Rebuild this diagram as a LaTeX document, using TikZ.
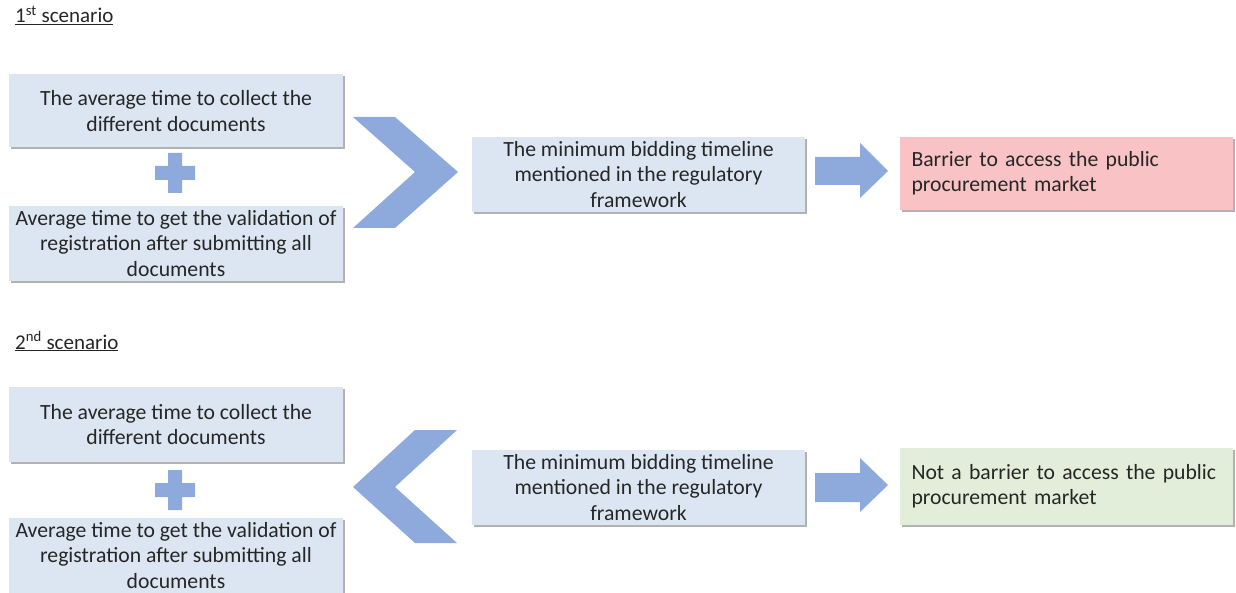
\documentclass[tikz,border=0pt]{standalone}
\usepackage{fontspec}
\setmainfont{Carlito}
\usetikzlibrary{shadows}
\definecolor{boxblue}{HTML}{DCE6F2}
\definecolor{shapeblue}{HTML}{8EA9DB}
\definecolor{badpink}{HTML}{F9C3C5}
\definecolor{okgreen}{HTML}{E3EEDA}
\definecolor{txt}{HTML}{262626}
\begin{document}
\begin{tikzpicture}[x=1pt,y=-1pt,
  every node/.style={font=\fontsize{21.7}{25.2}\selectfont, text=txt},
  box/.style={fill=#1, inner sep=0pt, minimum width=334pt,
    drop shadow={shadow xshift=1.6pt, shadow yshift=-1.6pt, fill=black, opacity=0.3}},
  box/.default=boxblue,
  verdict/.style={box=#1, align=left, text width=310pt, minimum width=333pt},
  title/.style={anchor=base west, inner sep=0pt, font=\fontsize{21}{25}\selectfont},
  blueshape/.style={fill=shapeblue, draw=none}]
\useasboundingbox (0,0) rectangle (1236,593);
\clip (0,0) rectangle (1236,593);

% ---------- first scenario ----------
\node[title] (t1) at (15,23) {\underline{1\textsuperscript{st} scenario}};

\node[box, align=center, minimum height=73pt] (a1) at (176,111)
  {The average time to collect the\\different documents};
\node[box, align=center, minimum height=75pt] (b1) at (176,243.5)
  {Average time to get the validation of\\registration after submitting all\\documents};
\fill[blueshape] (155,166) rectangle (195,180) (168,153) rectangle (182,193);

\fill[blueshape] (353,117) -- (395,117) -- (458,172) -- (395,228) -- (353,228) -- (415,172) -- cycle;

\node[box, align=center, minimum width=333pt, minimum height=75pt] (m1) at (638.5,174.5)
  {The minimum bidding timeline\\mentioned in the regulatory\\framework};

\fill[blueshape] (815,157) -- (860,157) -- (860,143) -- (888,171) -- (860,198) -- (860,185) -- (815,185) -- cycle;

\node[verdict=badpink, minimum height=73pt] (r1) at (1066.5,173.5)
  {Barrier to access the public\\procurement market};

% ---------- second scenario ----------
\node[title] (t2) at (15,349) {\underline{2\textsuperscript{nd} scenario}};

\node[box, align=center, minimum height=75pt] (a2) at (176,424.5)
  {The average time to collect the\\different documents};
\node[box, align=center, minimum height=75pt] (b2) at (176,555.5)
  {Average time to get the validation of\\registration after submitting all\\documents};
\fill[blueshape] (155,483) rectangle (195,497) (168,470) rectangle (182,510);

\fill[blueshape] (457,430) -- (415,430) -- (353,487) -- (415,543) -- (457,543) -- (395,487) -- cycle;

\node[box, align=center, minimum width=333pt, minimum height=75pt] (m2) at (638.5,487.5)
  {The minimum bidding timeline\\mentioned in the regulatory\\framework};

\fill[blueshape] (815,473) -- (860,473) -- (860,458) -- (888,485) -- (860,512) -- (860,502) -- (815,502) -- cycle;

\node[verdict=okgreen, minimum height=77pt] (r2) at (1066.5,486.5)
  {Not a barrier to access the public\\procurement market};
\end{tikzpicture}
\end{document}
